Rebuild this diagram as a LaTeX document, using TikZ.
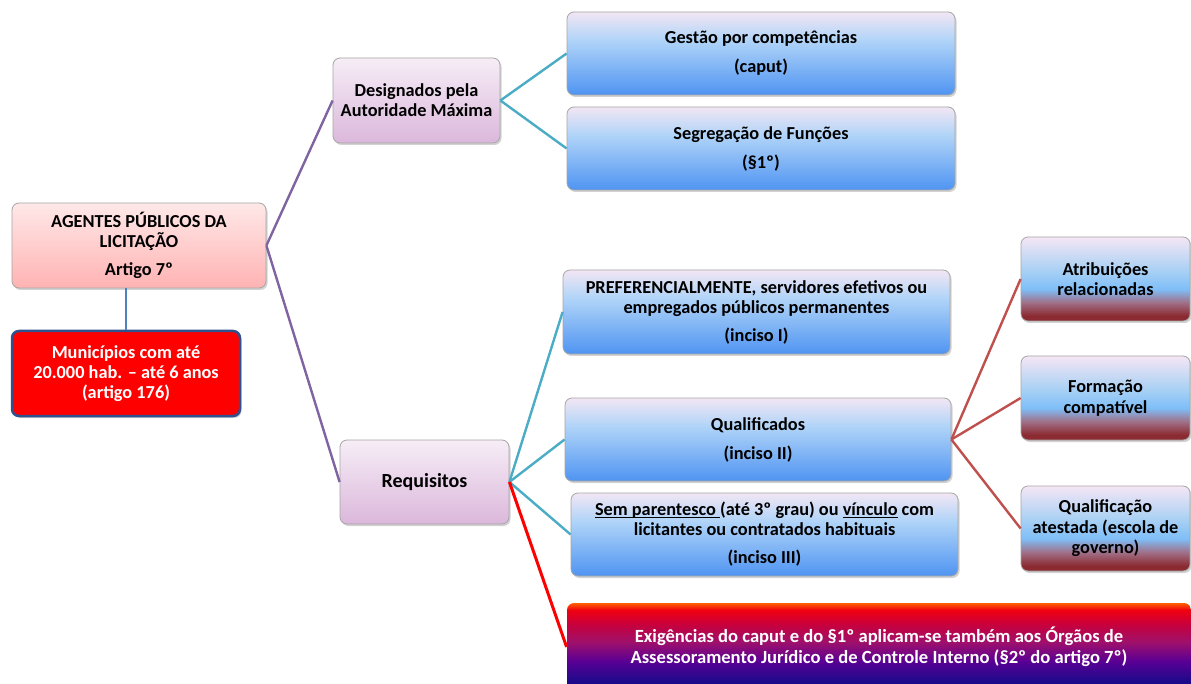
\documentclass[tikz,border=0pt]{standalone}
\usepackage{fontspec}
\setmainfont{Carlito}
\usetikzlibrary{shadows}

\definecolor{linepurple}{HTML}{8064A2}
\definecolor{lineteal}{HTML}{4BACC6}
\definecolor{linebrown}{HTML}{C0504D}
\definecolor{lineblue}{HTML}{4F81BD}
\definecolor{boxgray}{HTML}{A6A6A6}
\definecolor{munired}{HTML}{FF0000}
\definecolor{muniedge}{HTML}{2F528F}
\definecolor{blueA}{HTML}{F2E6F4}
\definecolor{blueB}{HTML}{B0D4F8}
\definecolor{blueC}{HTML}{4F94F2}
\definecolor{featA}{HTML}{F5E6F5}
\definecolor{featB}{HTML}{A8D0F4}
\definecolor{featC}{HTML}{7FBEF8}
\definecolor{featD}{HTML}{A07088}
\definecolor{featE}{HTML}{8B2A30}
\definecolor{exigA}{HTML}{FF6000}
\definecolor{exigB}{HTML}{F00010}
\definecolor{exigC}{HTML}{C8003C}
\definecolor{exigD}{HTML}{A0106A}
\definecolor{exigE}{HTML}{5A0094}
\definecolor{exigF}{HTML}{1A0A8A}

% gradients (path spans 25bp..75bp)
\pgfdeclareverticalshading{bluebox}{100bp}{color(0bp)=(blueC); color(25bp)=(blueC); color(58bp)=(blueB); color(75bp)=(blueA); color(100bp)=(blueA)}
\pgfdeclareverticalshading{redbox}{100bp}{color(0bp)=(featE); color(28bp)=(featE); color(36bp)=(featD); color(44bp)=(featC); color(55bp)=(featB); color(75bp)=(featA); color(100bp)=(featA)}
\pgfdeclareverticalshading{exigbox}{100bp}{color(0bp)=(exigF); color(30bp)=(exigF); color(42bp)=(exigE); color(53bp)=(exigD); color(63bp)=(exigC); color(71bp)=(exigB); color(75bp)=(exigA); color(100bp)=(exigA)}

\newcommand{\uline}[1]{\underline{\smash{#1}}}

\begin{document}
\begin{tikzpicture}[x=1pt,y=-1pt,
  box/.style={draw=boxgray,line width=0.8pt,rounded corners=7pt,align=center,
    font=\bfseries\fontsize{18.3}{20}\selectfont,
    drop shadow={shadow xshift=1.5pt,shadow yshift=-2pt,opacity=0.35}},
  rootbox/.style={box,top color=red!9!white,bottom color=red!30!white},
  lavbox/.style={box,top color=violet!7!white,bottom color=violet!28!white},
  infobox/.style={box,shading=bluebox},
  featbox/.style={box,shading=redbox,font=\bfseries\fontsize{18.3}{20.5}\selectfont},
  link/.style={line width=2.4pt}]
  \useasboundingbox (0,0) rectangle (1191,684);
  \fill[white] (0,0) rectangle (1191,684);

  \node[rootbox,minimum width=254,minimum height=85] (agentes) at (139,245.5)
    {AGENTES PÚBLICOS DA\\LICITAÇÃO\\[8pt]Artigo 7º};
  \node[box,fill=munired,draw=muniedge,line width=2.5pt,text=white,minimum width=228,minimum height=85] (municipios) at (126,373.5)
    {Municípios com até\\20.000 hab. -- até 6 anos\\(artigo 176)};

  \node[lavbox,minimum width=167,minimum height=85] (designados) at (416.5,100.5)
    {Designados pela\\Autoridade Máxima};
  \node[lavbox,font=\bfseries\fontsize{20}{22}\selectfont,minimum width=169,minimum height=84] (requisitos) at (424.5,482) {Requisitos};

  \node[infobox,minimum width=388,minimum height=83] (gestao) at (761,53.5)
    {Gestão por competências\\[9pt](caput)};
  \node[infobox,minimum width=388,minimum height=83] (segregacao) at (761,148.5)
    {Segregação de Funções\\[9pt](§1º)};

  \node[infobox,minimum width=387,minimum height=84] (preferencial) at (756.5,312)
    {PREFERENCIALMENTE, servidores efetivos ou\\empregados públicos permanentes\\[8pt](inciso I)};
  \node[infobox,minimum width=386,minimum height=83] (qualificados) at (758,439.5)
    {Qualificados\\[9pt](inciso II)};
  \node[infobox,minimum width=387,minimum height=83] (parentesco) at (764.5,534.5)
    {\uline{Sem parentesco }(até 3º grau) ou \uline{vínculo} com\\licitantes ou contratados habituais\\[8pt](inciso III)};
  \node[box,shading=exigbox,draw=none,text=white,font=\bfseries\fontsize{18.6}{21.5}\selectfont,minimum width=624,minimum height=88] (exigencias) at (879,647)
    {Exigências do caput e do §1º aplicam-se também aos Órgãos de\\Assessoramento Jurídico e de Controle Interno (§2º do artigo 7º)};

  \node[featbox,minimum width=169,minimum height=84] (atribuicoes) at (1105.5,279)
    {Atribuições\\relacionadas};
  \node[featbox,minimum width=169,minimum height=84] (formacao) at (1105.5,398)
    {Formação\\compatível};
  \node[featbox,minimum width=169,minimum height=85] (atestada) at (1105.5,528.5)
    {Qualificação\\atestada (escola de\\governo)};

  % connectors
  \draw[lineblue,line width=1.2pt] (municipios.north) -- (municipios.north |- agentes.south);
  \draw[link,linepurple] (agentes.east) -- (designados.west);
  \draw[link,linepurple] (agentes.east) -- (requisitos.west);
  \draw[link,lineteal] (designados.east) -- (gestao.west);
  \draw[link,lineteal] (designados.east) -- (segregacao.west);
  \draw[link,lineteal] (requisitos.east) -- (preferencial.west);
  \draw[link,lineteal] (requisitos.east) -- (qualificados.west);
  \draw[link,lineteal] (requisitos.east) -- (parentesco.west);
  \draw[link,red,line width=3pt] (requisitos.east) -- (exigencias.west);
  \draw[link,linebrown] (qualificados.east) -- (atribuicoes.west);
  \draw[link,linebrown] (qualificados.east) -- (formacao.west);
  \draw[link,linebrown] (qualificados.east) -- (atestada.west);
\end{tikzpicture}
\end{document}
